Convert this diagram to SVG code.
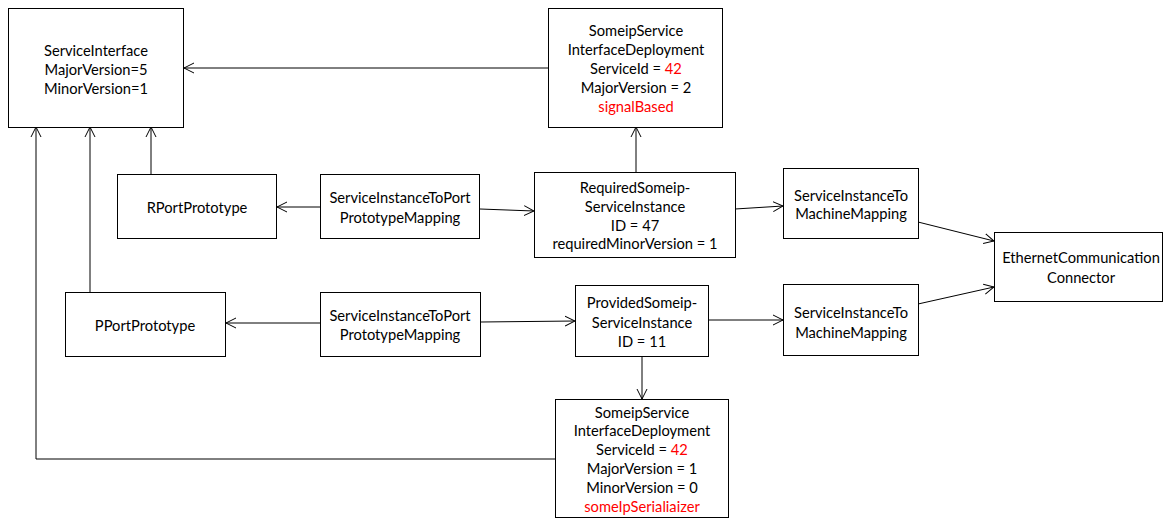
<svg xmlns="http://www.w3.org/2000/svg" width="1164" height="519" viewBox="0 0 1164 519">
  <style>
    .box { fill: #ffffff; stroke: #000000; stroke-width: 1; }
    .lbl { font-family: Lato, "Open Sans", "Liberation Sans", sans-serif; font-size: 14.7px; fill: #000000; text-anchor: middle; dominant-baseline: central; }
    .red { fill: #ff0000; }
    .edge { fill: none; stroke: #000000; stroke-width: 1; marker-end: url(#open); }
  </style>
  <defs>
    <marker id="open" viewBox="0 0 10 12" refX="10" refY="6" markerWidth="10" markerHeight="12" markerUnits="userSpaceOnUse" orient="auto">
      <path d="M0,1 L10,6 L0,11" fill="none" stroke="#000000" stroke-width="1"/>
    </marker>
  </defs>

  <!-- connectors -->
  <g id="connectors">
    <line class="edge" x1="548" y1="68" x2="184" y2="68"/>
    <line class="edge" x1="151" y1="174" x2="151" y2="127"/>
    <line class="edge" x1="90" y1="292" x2="90" y2="127"/>
    <polyline class="edge" points="555,459 36,459 36,127"/>
    <line class="edge" x1="320" y1="207" x2="277" y2="207"/>
    <line class="edge" x1="480" y1="209" x2="534" y2="211"/>
    <line class="edge" x1="636" y1="172" x2="636" y2="127"/>
    <line class="edge" x1="735" y1="209" x2="783" y2="206"/>
    <line class="edge" x1="918" y1="222" x2="994" y2="241"/>
    <line class="edge" x1="320" y1="323" x2="226" y2="323"/>
    <line class="edge" x1="481" y1="322" x2="575" y2="321"/>
    <line class="edge" x1="708" y1="320" x2="783" y2="320"/>
    <line class="edge" x1="918" y1="304" x2="994" y2="287"/>
    <line class="edge" x1="642" y1="356" x2="642" y2="399"/>
  </g>

  <!-- nodes -->
  <g id="service-interface">
    <rect class="box" x="8.5" y="8.5" width="175" height="119"/>
    <text class="lbl" x="96" y="50">ServiceInterface</text>
    <text class="lbl" x="96" y="69">MajorVersion=5</text>
    <text class="lbl" x="96" y="88">MinorVersion=1</text>
  </g>

  <g id="deployment-required">
    <rect class="box" x="548.5" y="8.5" width="174" height="119"/>
    <text class="lbl" x="636" y="30">SomeipService</text>
    <text class="lbl" x="636" y="49">InterfaceDeployment</text>
    <text class="lbl" x="636" y="68">ServiceId = <tspan class="red">42</tspan></text>
    <text class="lbl" x="636" y="87">MajorVersion = 2</text>
    <text class="lbl red" x="636" y="106">signalBased</text>
  </g>

  <g id="rport">
    <rect class="box" x="117.5" y="174.5" width="159" height="64"/>
    <text class="lbl" x="197" y="207">RPortPrototype</text>
  </g>

  <g id="port-mapping-r">
    <rect class="box" x="320.5" y="174.5" width="159" height="64"/>
    <text class="lbl" x="400" y="197">ServiceInstanceToPort</text>
    <text class="lbl" x="400" y="217">PrototypeMapping</text>
  </g>

  <g id="required-instance">
    <rect class="box" x="534.5" y="172.5" width="201" height="85"/>
    <text class="lbl" x="635" y="187">RequiredSomeip-</text>
    <text class="lbl" x="635" y="206">ServiceInstance</text>
    <text class="lbl" x="635" y="225">ID = 47</text>
    <text class="lbl" x="635" y="243">requiredMinorVersion = 1</text>
  </g>

  <g id="machine-mapping-r">
    <rect class="box" x="783.5" y="168.5" width="135" height="70"/>
    <text class="lbl" x="851" y="195">ServiceInstanceTo</text>
    <text class="lbl" x="851" y="213">MachineMapping</text>
  </g>

  <g id="ethernet-connector">
    <rect class="box" x="994.5" y="232.5" width="168" height="69"/>
    <text class="lbl" x="1081" y="257">EthernetCommunication</text>
    <text class="lbl" x="1081" y="277">Connector</text>
  </g>

  <g id="pport">
    <rect class="box" x="65.5" y="292.5" width="160" height="64"/>
    <text class="lbl" x="145" y="325">PPortPrototype</text>
  </g>

  <g id="port-mapping-p">
    <rect class="box" x="320.5" y="292.5" width="160" height="64"/>
    <text class="lbl" x="400" y="315">ServiceInstanceToPort</text>
    <text class="lbl" x="400" y="334">PrototypeMapping</text>
  </g>

  <g id="provided-instance">
    <rect class="box" x="575.5" y="285.5" width="133" height="71"/>
    <text class="lbl" x="642" y="302">ProvidedSomeip-</text>
    <text class="lbl" x="642" y="322">ServiceInstance</text>
    <text class="lbl" x="642" y="341">ID = 11</text>
  </g>

  <g id="machine-mapping-p">
    <rect class="box" x="783.5" y="284.5" width="135" height="71"/>
    <text class="lbl" x="851" y="312">ServiceInstanceTo</text>
    <text class="lbl" x="851" y="332">MachineMapping</text>
  </g>

  <g id="deployment-provided">
    <rect class="box" x="555.5" y="399.5" width="173" height="118"/>
    <text class="lbl" x="642" y="412">SomeipService</text>
    <text class="lbl" x="642" y="430">InterfaceDeployment</text>
    <text class="lbl" x="642" y="449">ServiceId = <tspan class="red">42</tspan></text>
    <text class="lbl" x="642" y="468">MajorVersion = 1</text>
    <text class="lbl" x="642" y="487">MinorVersion = 0</text>
    <text class="lbl red" x="642" y="506">someIpSerialiaizer</text>
  </g>
</svg>
